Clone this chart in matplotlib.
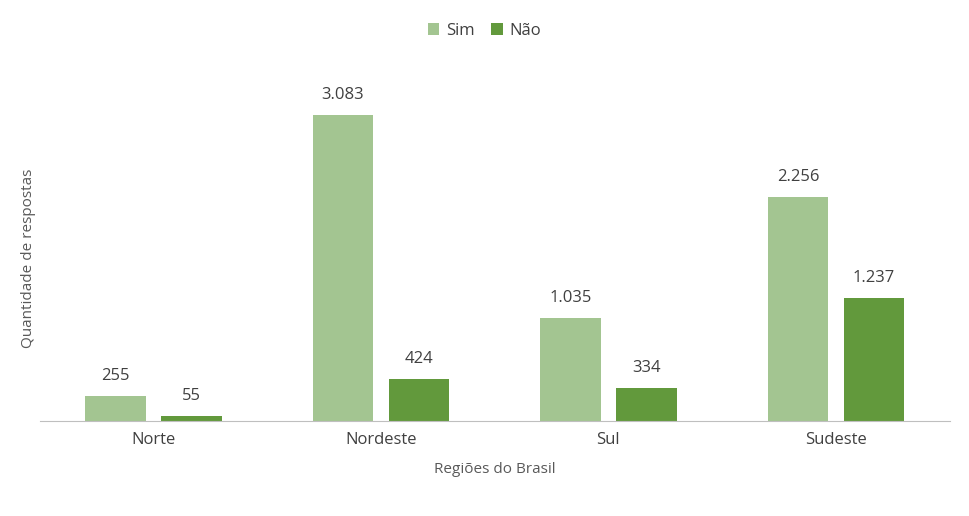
import numpy as np
import matplotlib.pyplot as plt

plt.rcParams['font.family'] = ['Open Sans', 'DejaVu Sans']

regioes = ['Norte', 'Nordeste', 'Sul', 'Sudeste']
sim = [255, 3083, 1035, 2256]
nao = [55, 424, 334, 1237]
rotulos_sim = ['255', '3.083', '1.035', '2.256']
rotulos_nao = ['55', '424', '334', '1.237']

cor_sim = '#A3C591'
cor_nao = '#62993C'

fig = plt.figure(figsize=(9.69, 5.16), dpi=100)
ax = fig.add_axes([0.041, 0.184, 0.939, 0.674])

x = np.arange(len(regioes))
w = 0.265
b1 = ax.bar(x - 0.167, sim, w, color=cor_sim, label='Sim')
b2 = ax.bar(x + 0.167, nao, w, color=cor_nao, label='Não')

for barras, rot in [(b1, rotulos_sim), (b2, rotulos_nao)]:
    for b, t in zip(barras, rot):
        ax.text(b.get_x() + b.get_width() / 2, b.get_height() + 120, t,
                ha='center', va='bottom', fontsize=12, color='#404040')

ax.set_xlim(-0.5, 3.5)
ax.set_ylim(0, 3500)
ax.set_yticks([])
ax.set_xticks(x)
ax.set_xticklabels(regioes, fontsize=12, color='#404040')
ax.tick_params(axis='x', length=0, pad=8)
for s in ['top', 'right', 'left']:
    ax.spines[s].set_visible(False)
ax.spines['bottom'].set_color('#BFBFBF')

ax.set_xlabel('Regiões do Brasil', fontsize=11, color='#595959', labelpad=10)
fig.text(0.029, 0.5, 'Quantidade de respostas', rotation=90, ha='center',
         va='center', fontsize=11, color='#595959')

fig.legend(loc='upper center', bbox_to_anchor=(0.5, 0.985), ncol=2,
           frameon=False, fontsize=12, handlelength=0.7, handleheight=0.7,
           columnspacing=1.0, handletextpad=0.4, labelcolor='#404040')

fig.savefig('out.png', dpi=100)
